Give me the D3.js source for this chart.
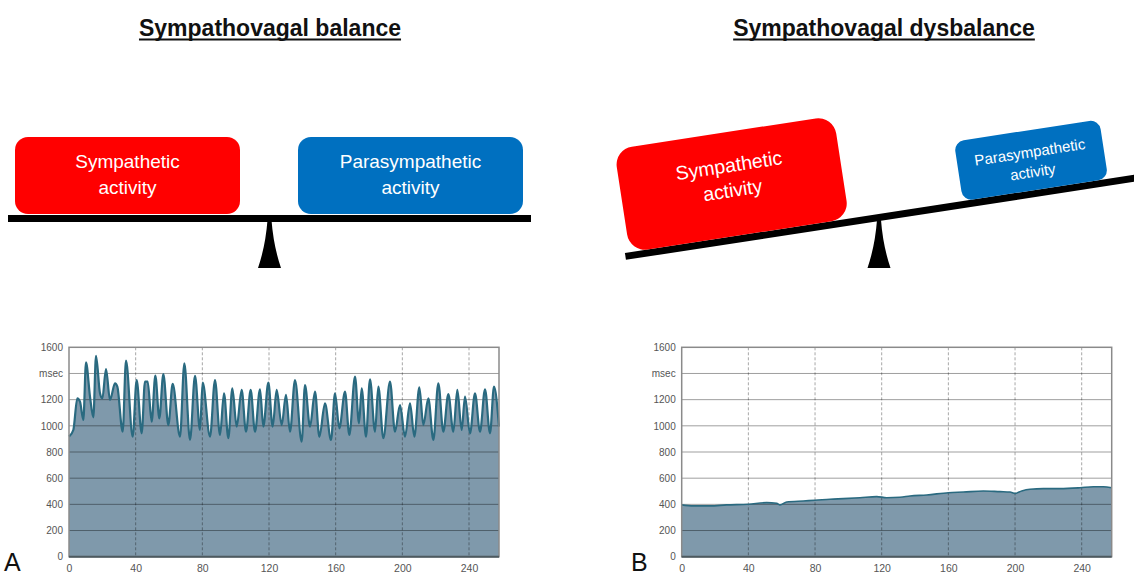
<!DOCTYPE html>
<html><head><meta charset="utf-8">
<script src="https://cdn.jsdelivr.net/npm/d3@7"></script>
<style>
body{margin:0;background:#fff}
svg{display:block}
text{font-family:"Liberation Sans",Arial,Helvetica,sans-serif}
</style>
</head><body>
<svg id="c" width="1134" height="577"></svg>
<script>
// ---------- data ----------
const titles = ["Sympathovagal balance", "Sympathovagal dysbalance"];
const leftBoxLabel = ["Sympathetic", "activity"];
const rightBoxLabel = ["Parasympathetic", "activity"];
const panelLabels = ["A", "B"];
const yTicks = [0, 200, 400, 600, 800, 1000, 1200, 1400, 1600];
const yTickLabels = ["0", "200", "400", "600", "800", "1000", "1200", "msec", "1600"];
const xTicks = [0, 40, 80, 120, 160, 200, 240];
const timeDomain = [0, 258];
const rrDomain = [0, 1600];

// Panel A: RR interval tachogram (sec, msec)
const timeA = [0,2.6,5,6.6,8.6,10.2,12.6,14.6,16.2,18.6,20,22.2,24.6,27.6,29,32.2,34.2,38.2,40.6,43.6,45.6,47.2,49.6,51.8,54.2,56.6,59.6,62.2,66.6,69.2,72.6,75.6,78.6,80.2,84.6,87.6,90.6,93,95.6,98,100.6,103.6,106.2,109,111.6,114.6,116.6,119.6,122.2,124.6,127.6,130.2,132.6,135.6,139.6,141.6,144.6,147.6,150.2,153.6,157.2,159.6,162.2,165.6,168.2,171.6,174,175.6,178.2,180.6,183.6,185.6,188.6,192.6,195.6,198.6,201.6,204.6,207.2,210.2,212.6,215.6,218.6,221.6,224.6,227.6,230.6,233,235.6,237.6,240.6,243.6,246.6,249.6,252.6,255,258];
const rrA = [917,968,1210,1185,1045,1485,1223,1065,1534,1249,1210,1434,1198,1325,1300,955,1498,917,1350,943,1338,1338,1032,1384,1057,1396,1006,1320,917,1478,892,1381,968,1330,917,1350,930,1249,905,1287,994,1274,955,1274,955,1279,994,1330,994,1274,1006,1236,955,1350,879,1312,994,1261,917,1172,892,1249,981,1261,930,1376,1019,1287,917,1356,955,1300,905,1338,955,1159,917,1172,917,1294,1006,1210,892,1325,955,1243,955,1274,968,1223,943,1249,955,1279,943,1300,994];

// Panel B: RR interval tachogram (sec, msec)
const timeB = [0,7,17,27,40,51,57,59,63,73,80,89,97,107,117,123,131,137,147,160,169,181,191,197,200,204,209,217,227,239,247,253,258];
const rrB = [396,388,388,396,401,413,408,396,418,426,431,439,444,451,459,451,454,464,472,489,494,502,497,494,484,502,515,520,520,527,535,535,527];

// ---------- drawing ----------
const svg = d3.select("#c");
const FILL = "#7f99ab", LINE = "#2a6a80";

// titles with underline
[[titles[0], 270], [titles[1], 884]].forEach(([t, cx]) => {
  const tx = svg.append("text").attr("x", cx).attr("y", 36)
    .attr("text-anchor", "middle").attr("font-size", 23).attr("font-weight", "bold")
    .attr("fill", "#111").text(t);
  const w = tx.node().getComputedTextLength();
  svg.append("rect").attr("x", cx - w / 2).attr("y", 38.5).attr("width", w).attr("height", 2).attr("fill", "#111");
});

function boxText(g, lines, cx, y1, gap, size) {
  lines.forEach((l, i) => g.append("text").attr("x", cx).attr("y", y1 + i * gap)
    .attr("text-anchor", "middle").attr("font-size", size).attr("fill", "#fff").text(l));
}
function fulcrum(cx) {
  svg.append("path")
    .attr("d", `M${cx-2},220 Q${cx-4},246 ${cx-11.5},268 L${cx+11.5},268 Q${cx+4},246 ${cx+2},220 Z`)
    .attr("fill", "#000");
}

// Panel A seesaw (balanced)
{
  const g = svg.append("g");
  g.append("rect").attr("x", 15).attr("y", 137).attr("width", 225).attr("height", 77).attr("rx", 13).attr("fill", "#ff0000");
  g.append("rect").attr("x", 298).attr("y", 137).attr("width", 225).attr("height", 77).attr("rx", 13).attr("fill", "#0070c0");
  boxText(g, leftBoxLabel, 127.5, 168, 26, 19);
  boxText(g, rightBoxLabel, 410.5, 168, 26, 19);
  g.append("rect").attr("x", 8).attr("y", 215).attr("width", 523).attr("height", 7).attr("fill", "#000");
  fulcrum(269.5);
}

// Panel B seesaw (tilted)
{
  fulcrum(879);
  const g = svg.append("g").attr("transform", "rotate(-8.73,879,221)");
  g.append("rect").attr("x", 623).attr("y", 214).attr("width", 540).attr("height", 7).attr("fill", "#000");
  g.append("rect").attr("x", 628).attr("y", 110).attr("width", 222).attr("height", 104).attr("rx", 18).attr("fill", "#ff0000");
  g.append("rect").attr("x", 965).attr("y", 154).attr("width", 147).attr("height", 60).attr("rx", 10).attr("fill", "#0070c0");
  boxText(g, leftBoxLabel, 739, 150, 25, 19.5);
  boxText(g, rightBoxLabel, 1038.5, 181, 20, 15);
}

// charts
function chart(times, vals, x0, x1, lw) {
  const x = d3.scaleLinear(timeDomain, [x0, x1]);
  const y = d3.scaleLinear(rrDomain, [556.7, 347.3]);
  const g = svg.append("g");
  const data = times.map((t, i) => [t, vals[i]]);
  g.append("rect").attr("x", x0).attr("y", y(1600)).attr("width", x1 - x0).attr("height", y(0) - y(1600)).attr("fill", "#fff");
  g.append("path").datum(data)
    .attr("d", d3.area().x(d => x(d[0])).y0(y(0)).y1(d => y(d[1])).curve(d3.curveMonotoneX))
    .attr("fill", FILL);
  // grid
  g.append("g").selectAll("line").data(yTicks.filter(v => v > 0 && v < 1600)).join("line")
    .attr("x1", x0).attr("x2", x1).attr("y1", d => y(d)).attr("y2", d => y(d))
    .attr("stroke", "#000").attr("stroke-opacity", 0.38).attr("stroke-width", 1);
  g.append("g").selectAll("line").data(xTicks.filter(v => v > 0)).join("line")
    .attr("x1", d => x(d)).attr("x2", d => x(d)).attr("y1", y(1600)).attr("y2", y(0))
    .attr("stroke", "#000").attr("stroke-opacity", 0.35).attr("stroke-dasharray", "3,2");
  g.append("path").datum(data)
    .attr("d", d3.line().x(d => x(d[0])).y(d => y(d[1])).curve(d3.curveMonotoneX))
    .attr("fill", "none").attr("stroke", LINE).attr("stroke-width", lw).attr("stroke-linejoin", "round");
  // border
  g.append("rect").attr("x", x0).attr("y", y(1600)).attr("width", x1 - x0).attr("height", y(0) - y(1600))
    .attr("fill", "none").attr("stroke", "#8a8a8a").attr("stroke-width", 1.5);
  g.append("line").attr("x1", x0).attr("x2", x1).attr("y1", y(0)).attr("y2", y(0)).attr("stroke", "#4d5a60").attr("stroke-width", 2);
  // axes
  const ya = d3.axisLeft(y).tickValues(yTicks).tickFormat((d, i) => yTickLabels[i]).tickSize(0).tickPadding(6);
  const ag = g.append("g").attr("transform", `translate(${x0},0)`).call(ya);
  ag.select(".domain").remove();
  ag.selectAll("text").attr("font-size", 10).attr("fill", "#555").attr("font-family", "Liberation Sans, Arial, sans-serif");
  const xa = d3.axisBottom(x).tickValues(xTicks).tickFormat(d3.format("d")).tickSize(0).tickPadding(8);
  const bg = g.append("g").attr("transform", `translate(0,${y(0)})`).call(xa);
  bg.select(".domain").remove();
  bg.selectAll("text").attr("font-size", 10.5).attr("fill", "#555").attr("font-family", "Liberation Sans, Arial, sans-serif");
  return g;
}
chart(timeA, rrA, 69, 499, 2.2);
chart(timeB, rrB, 681.7, 1111.7, 1.6);

svg.append("text").attr("x", 4).attr("y", 571).attr("font-size", 25).attr("fill", "#111").text(panelLabels[0]);
svg.append("text").attr("x", 631).attr("y", 571).attr("font-size", 25).attr("fill", "#111").text(panelLabels[1]);
</script>
</body></html>
